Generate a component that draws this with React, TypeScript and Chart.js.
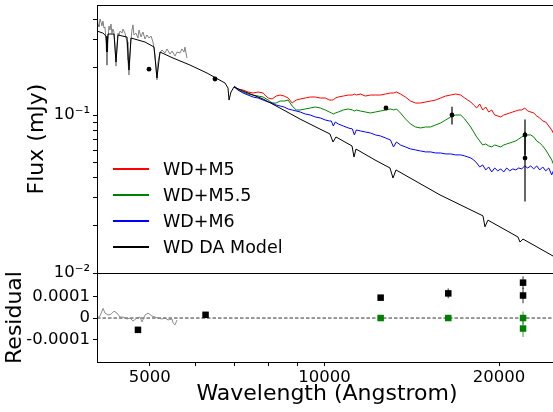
import React, { useEffect, useRef } from "react";
import { Chart, registerables } from "chart.js";
Chart.register(...registerables);

// ---------- top panel data ----------
const modelWave = [3861, 3956, 4005, 4021, 4037, 4137, 4171, 4205, 4362, 4397, 4433, 4693, 4868, 4927, 4988, 5259, 5635, 6038, 6497, 6577, 6604, 6657, 6739, 6990, 7583, 8124, 8814, 9559, 9956, 10078, 10201, 10888, 10977, 11066, 11956, 12707, 12863, 13021, 15572, 18543, 18695, 18925, 21380, 21556, 21819, 25056];
const modelFlux = [0.340, 0.330, 0.316, 0.2505, 0.3256, 0.3256, 0.2164, 0.3208, 0.3116, 0.1927, 0.3072, 0.2897, 0.2694, 0.1714, 0.2505, 0.2295, 0.2072, 0.1844, 0.1594, 0.1482, 0.1244, 0.1398, 0.1504, 0.1418, 0.1263, 0.1107, 0.0943, 0.0815, 0.0758, 0.0675, 0.0726, 0.0637, 0.0542, 0.0609, 0.0519, 0.0462, 0.0399, 0.0449, 0.0312, 0.0230, 0.0196, 0.0216, 0.0169, 0.0157, 0.0164, 0.0124];

const specWave = [3861, 3877, 3892, 3908, 3924, 3940, 3956, 3972, 3988, 4005, 4021, 4037, 4054, 4070, 4087, 4103, 4120, 4137, 4154, 4171, 4188, 4205, 4222, 4239, 4274, 4291, 4326, 4362, 4379, 4397, 4415, 4433, 4451, 4469, 4487, 4524, 4561, 4580, 4617, 4655, 4693, 4731, 4770, 4809, 4848, 4888, 4927, 4947, 4988, 5029, 5090, 5132, 5195, 5237, 5301, 5345, 5410, 5454, 5499, 5521, 5544, 5566];
const specFlux = [0.411, 0.377, 0.361, 0.405, 0.388, 0.366, 0.393, 0.355, 0.361, 0.298, 0.207, 0.298, 0.366, 0.345, 0.377, 0.330, 0.350, 0.335, 0.277, 0.204, 0.277, 0.330, 0.321, 0.340, 0.330, 0.350, 0.330, 0.290, 0.223, 0.179, 0.240, 0.298, 0.345, 0.372, 0.321, 0.330, 0.307, 0.345, 0.312, 0.335, 0.303, 0.321, 0.307, 0.316, 0.290, 0.240, 0.167, 0.216, 0.247, 0.258, 0.247, 0.262, 0.243, 0.254, 0.236, 0.2505, 0.247, 0.262, 0.2505, 0.269, 0.247, 0.2295];

const compWave = [6739, 6850, 6991, 7135, 7282, 7432, 7585, 7742, 7869, 7998, 8130, 8263, 8399, 8537, 8678, 8821, 9003, 9188, 9378, 9571, 9768, 9929, 10010, 10092, 10174, 10299, 10511, 10728, 10904, 10993, 11083, 11265, 11497, 11734, 11976, 12223, 12475, 12732, 12888, 13046, 13261, 13534, 13813, 14098, 14388, 14685, 14987, 15296, 15611, 15933, 16261, 16596, 16938, 17217, 17428, 17642, 17858, 18077, 18299, 18524, 18751, 18981, 19214, 19450, 19689, 19931, 20176, 20424, 20675, 20929, 21186, 21446, 21709, 21975, 22245, 22518, 22794, 23074, 23357, 23644, 23934, 24228, 24525, 24725];
const fluxM5 = [0.1526, 0.1461, 0.1439, 0.1398, 0.1378, 0.1398, 0.1378, 0.1281, 0.1263, 0.1319, 0.1338, 0.1319, 0.1281, 0.1191, 0.1244, 0.1263, 0.1281, 0.1300, 0.1300, 0.1281, 0.1281, 0.1244, 0.1244, 0.1244, 0.1281, 0.1300, 0.1319, 0.1338, 0.1338, 0.1358, 0.1338, 0.1358, 0.1319, 0.1338, 0.1338, 0.1338, 0.1358, 0.1378, 0.1378, 0.1398, 0.1358, 0.1300, 0.1226, 0.1191, 0.1191, 0.1209, 0.1226, 0.1244, 0.1281, 0.1319, 0.1338, 0.1358, 0.1338, 0.1281, 0.1244, 0.1209, 0.1157, 0.1108, 0.1174, 0.1076, 0.1124, 0.1045, 0.1076, 0.1000, 0.0986, 0.0972, 0.1000, 0.1015, 0.1030, 0.1045, 0.1060, 0.1076, 0.1076, 0.1108, 0.1060, 0.1045, 0.1030, 0.0986, 0.0958, 0.0917, 0.0903, 0.0852, 0.0804, 0.0759];
const fluxM55 = [0.1504, 0.1439, 0.1398, 0.1358, 0.1338, 0.1319, 0.1300, 0.1244, 0.1191, 0.1191, 0.1226, 0.1226, 0.1244, 0.1140, 0.1076, 0.1076, 0.1092, 0.1108, 0.1124, 0.1108, 0.1076, 0.1045, 0.1030, 0.1015, 0.1030, 0.1045, 0.1076, 0.1092, 0.1076, 0.1060, 0.1076, 0.1060, 0.1045, 0.1030, 0.1045, 0.1060, 0.1076, 0.1092, 0.1076, 0.1092, 0.1030, 0.0944, 0.0877, 0.0840, 0.0828, 0.0840, 0.0840, 0.0865, 0.0890, 0.0930, 0.0972, 0.1000, 0.1000, 0.0944, 0.0890, 0.0840, 0.0781, 0.0726, 0.0685, 0.0646, 0.0656, 0.0637, 0.0628, 0.0646, 0.0637, 0.0628, 0.0646, 0.0656, 0.0665, 0.0675, 0.0685, 0.0705, 0.0726, 0.0748, 0.0748, 0.0748, 0.0726, 0.0685, 0.0665, 0.0637, 0.0601, 0.0559, 0.0520, 0.0483];
const fluxM6 = [0.1526, 0.1439, 0.1378, 0.1338, 0.1300, 0.1281, 0.1244, 0.1209, 0.1191, 0.1157, 0.1140, 0.1124, 0.1092, 0.1076, 0.1060, 0.1045, 0.1015, 0.1000, 0.0972, 0.0958, 0.0930, 0.0917, 0.0917, 0.0852, 0.0903, 0.0877, 0.0852, 0.0828, 0.0816, 0.0748, 0.0804, 0.0793, 0.0781, 0.0770, 0.0748, 0.0737, 0.0716, 0.0695, 0.0628, 0.0675, 0.0646, 0.0628, 0.0610, 0.0601, 0.0592, 0.0584, 0.0584, 0.0575, 0.0575, 0.0567, 0.0567, 0.0559, 0.0559, 0.0551, 0.0543, 0.0535, 0.0520, 0.0497, 0.0469, 0.0483, 0.0449, 0.0469, 0.0436, 0.0462, 0.0443, 0.0456, 0.0436, 0.0462, 0.0443, 0.0456, 0.0449, 0.0462, 0.0456, 0.0476, 0.0462, 0.0476, 0.0456, 0.0476, 0.0449, 0.0469, 0.0443, 0.0462, 0.0418, 0.0449];

const photWave = [4770, 6238, 12500, 16350, 22000, 22000];
const photFlux = [0.195, 0.169, 0.1108, 0.100, 0.0748, 0.0534];
const photErr = [0, 0, 0, 0.013, 0.019, 0.025];

// ---------- residual panel data ----------
const residSpecWave = [4054, 4103, 4152, 4185, 4235, 4286, 4337, 4389, 4442, 4495, 4567, 4622, 4677, 4752, 4808, 4847, 4905, 4964, 5044, 5104, 5165, 5248, 5311, 5375, 5461, 5483, 5526, 5570];
const residSpecVal = [0, 0.9e-5, 4.5e-5, 2.3e-5, 1.4e-5, 1.8e-5, 3.2e-5, 2.3e-5, 0.45e-5, 0.45e-5, -0.45e-5, 0, -1.4e-5, 0, 0.45e-5, -1.8e-5, 1.4e-5, 2.3e-5, 0.9e-5, 0.45e-5, 0, -0.45e-5, 0, -0.9e-5, -0.45e-5, -2.3e-5, -3.2e-5, -0.9e-5];
const residBlackWave = [4770, 6238, 12500, 16350, 22000, 22000];
const residBlackVal = [-5.5e-5, 1.5e-5, 9.5e-5, 11.5e-5, 16.5e-5, 10.5e-5];
const residBlackErr = [0, 0, 0, 2.3e-5, 3e-5, 3.6e-5];
const residGreenWave = [12500, 16350, 22000, 22000];
const residGreenVal = [0, 0, 0, -4.9e-5];
const residGreenErr = [0, 0, 3e-5, 4e-5];

// ---------- ticks ----------
const topYTicks = [0.01, 0.02, 0.03, 0.04, 0.05, 0.06, 0.07, 0.08, 0.09, 0.1, 0.2, 0.3, 0.4];
const topYLabels: Record<string, string> = { "0.01": "10\u207B\u00B2", "0.1": "10\u207B\u00B9" };
const resYTicks = [-0.0001, 0, 0.0001];
const resYLabels = ["-0.0001", "0", "0.0001"];
const xTicks = [5000, 6000, 7000, 8000, 9000, 10000, 20000];
const xLabels: Record<string, string> = { "5000": "5000", "10000": "10000", "20000": "20000" };

const legendItems = [
  { label: "WD+M5", color: "#ff0000" },
  { label: "WD+M5.5", color: "#008000" },
  { label: "WD+M6", color: "#0000ff" },
  { label: "WD DA Model", color: "#000000" },
];

const FONT = "'DejaVu Sans', sans-serif";
const CW = 572;

const pts = (xs: number[], ys: number[]) => xs.map((x, i) => ({ x, y: ys[i] }));

const framePlugin = {
  id: "frame",
  afterDraw(chart: any) {
    const { ctx, chartArea: a } = chart;
    ctx.save();
    ctx.strokeStyle = "#000";
    ctx.lineWidth = 1;
    ctx.strokeRect(Math.round(a.left) + 0.5, Math.round(a.top) + 0.5, Math.round(a.right - a.left), Math.round(a.bottom - a.top));
    ctx.restore();
  },
};

const errorBarPlugin = {
  id: "errbars",
  beforeDatasetDraw(chart: any, args: any) {
    const ds: any = chart.data.datasets[args.index];
    if (!ds.errors) return;
    const meta = chart.getDatasetMeta(args.index);
    const xs = chart.scales[meta.xAxisID];
    const ys = chart.scales[meta.yAxisID];
    const { ctx, chartArea: a } = chart;
    ctx.save();
    ctx.beginPath();
    ctx.rect(a.left, a.top, a.right - a.left, a.bottom - a.top);
    ctx.clip();
    ctx.strokeStyle = ds.errorColor;
    ctx.lineWidth = 1.5;
    ds.data.forEach((p: any, i: number) => {
      const e = ds.errors[i];
      if (!e) return;
      const x = xs.getPixelForValue(p.x);
      ctx.beginPath();
      ctx.moveTo(x, ys.getPixelForValue(p.y - e));
      ctx.lineTo(x, ys.getPixelForValue(p.y + e));
      ctx.stroke();
    });
    ctx.restore();
  },
};

const zeroLinePlugin = {
  id: "zeroline",
  beforeDatasetsDraw(chart: any) {
    const { ctx, chartArea: a } = chart;
    const y = chart.scales.y.getPixelForValue(0);
    ctx.save();
    ctx.strokeStyle = "#333";
    ctx.lineWidth = 1;
    ctx.setLineDash([3.5, 2]);
    ctx.beginPath();
    ctx.moveTo(a.left, y);
    ctx.lineTo(a.right, y);
    ctx.stroke();
    ctx.restore();
  },
};

const axisCommon = {
  grid: { drawOnChartArea: false, drawTicks: true, tickLength: 4, color: "#000", tickColor: "#000" },
  border: { display: true, color: "#000", width: 1 },
};

const noPad = (s: any) => {
  s.paddingTop = 0;
  s.paddingBottom = 0;
  s.paddingLeft = 0;
  s.paddingRight = 0;
};

export default function App() {
  const topRef = useRef<HTMLCanvasElement>(null);
  const botRef = useRef<HTMLCanvasElement>(null);

  useEffect(() => {
    const line = (label: string, xs: number[], ys: number[], color: string, order: number, width = 1) => ({
      label,
      data: pts(xs, ys),
      borderColor: color,
      backgroundColor: color,
      borderWidth: width,
      pointRadius: 0,
      showLine: true,
      tension: 0,
      order,
    });

    const top = new Chart(topRef.current as HTMLCanvasElement, {
      type: "scatter",
      data: {
        datasets: [
          {
            label: "phot",
            data: pts(photWave, photFlux),
            pointRadius: 2.4,
            pointBackgroundColor: "#000",
            pointBorderWidth: 0,
            showLine: false,
            order: 0,
            errors: photErr,
            errorColor: "rgba(0,0,0,0.8)",
          } as any,
          line("WD DA Model", modelWave, modelFlux, "#000000", 1),
          line("WD+M6", compWave, fluxM6, "#0000ff", 2),
          line("WD+M5.5", compWave, fluxM55, "#008000", 3),
          line("WD+M5", compWave, fluxM5, "#ff0000", 4),
          line("spectrum", specWave, specFlux, "#808080", 5),
        ],
      },
      options: {
        animation: false,
        responsive: false,
        maintainAspectRatio: false,
        events: [],
        layout: { padding: { left: 0, right: CW - 557, top: 5, bottom: 290 - 273 } },
        plugins: { legend: { display: false }, tooltip: { enabled: false } },
        scales: {
          x: { type: "logarithmic", min: 3861, max: 25056, display: false },
          y: {
            type: "logarithmic",
            min: 0.01,
            max: 0.497,
            bounds: "data",
            afterBuildTicks: (s: any) => {
              s.ticks = topYTicks.map((v) => ({ value: v }));
            },
            afterFit: (s: any) => {
              s.width = 97;
              noPad(s);
            },
            ticks: {
              autoSkip: false,
              padding: 3,
              color: "#000",
              font: { family: FONT, size: 16.5 },
              callback: (v: any) => topYLabels[String(+Number(v).toPrecision(6))] || "",
            },
            title: {
              display: true,
              text: "Flux (mJy)",
              color: "#000",
              font: { family: FONT, size: 22 },
              padding: { top: 24, bottom: 0 },
            },
            ...axisCommon,
          },
        },
      } as any,
      plugins: [framePlugin, errorBarPlugin],
    });

    const bot = new Chart(botRef.current as HTMLCanvasElement, {
      type: "scatter",
      data: {
        datasets: [
          {
            label: "resid black",
            data: pts(residBlackWave, residBlackVal),
            pointStyle: "rect",
            pointRadius: 4.6,
            pointBackgroundColor: "#000",
            pointBorderWidth: 0,
            showLine: false,
            order: 0,
            errors: residBlackErr,
            errorColor: "rgba(0,0,0,0.55)",
          } as any,
          {
            label: "resid green",
            data: pts(residGreenWave, residGreenVal),
            pointStyle: "rect",
            pointRadius: 4.6,
            pointBackgroundColor: "#008000",
            pointBorderWidth: 0,
            showLine: false,
            order: 1,
            errors: residGreenErr,
            errorColor: "rgba(0,128,0,0.5)",
          } as any,
          line("resid spectrum", residSpecWave, residSpecVal, "#808080", 2, 0.9),
        ],
      },
      options: {
        animation: false,
        responsive: false,
        maintainAspectRatio: false,
        events: [],
        layout: { padding: { left: 0, right: CW - 557, top: 273, bottom: 0 } },
        plugins: { legend: { display: false }, tooltip: { enabled: false } },
        scales: {
          x: {
            type: "logarithmic",
            min: 4054,
            max: 25175,
            bounds: "data",
            afterBuildTicks: (s: any) => {
              s.ticks = xTicks.map((v) => ({ value: v }));
            },
            afterFit: (s: any) => {
              s.height = 50;
              noPad(s);
            },
            ticks: {
              autoSkip: false,
              maxRotation: 0,
              padding: 2,
              color: "#000",
              font: { family: FONT, size: 16.5 },
              callback: (v: any) => xLabels[String(Math.round(Number(v)))] || "",
            },
            title: {
              display: true,
              text: "Wavelength (Angstrom)",
              color: "#000",
              font: { family: FONT, size: 22 },
              padding: { top: 0, bottom: 5 },
            },
            ...axisCommon,
          },
          y: {
            type: "linear",
            min: -0.000205,
            max: 0.00021,
            afterBuildTicks: (s: any) => {
              s.ticks = resYTicks.map((v) => ({ value: v }));
            },
            afterFit: (s: any) => {
              s.width = 97;
              noPad(s);
            },
            ticks: {
              autoSkip: false,
              padding: 3,
              color: "#000",
              font: { family: FONT, size: 16.5 },
              callback: (v: any, i: number) => resYLabels[i] ?? "",
            },
            title: {
              display: true,
              text: "Residual",
              color: "#000",
              font: { family: FONT, size: 22 },
              padding: { top: 2, bottom: 0 },
            },
            ...axisCommon,
          },
        },
      } as any,
      plugins: [framePlugin, errorBarPlugin, zeroLinePlugin],
    });

    return () => {
      top.destroy();
      bot.destroy();
    };
  }, []);

  return (
    <div
      style={{
        position: "fixed",
        left: 0,
        top: 0,
        width: 553,
        height: 412,
        overflow: "hidden",
        background: "#fff",
      }}
    >
      <canvas ref={topRef} width={CW} height={290} style={{ position: "absolute", left: 0, top: 0 }} />
      <canvas ref={botRef} width={CW} height={412} style={{ position: "absolute", left: 0, top: 0 }} />
      <div style={{ position: "absolute", left: 0, top: 0, fontFamily: FONT, fontSize: 17.5, color: "#000" }}>
        {legendItems.map((it, i) => (
          <div key={it.label} style={{ position: "absolute", left: 113, top: 169 + i * 26 - 12, height: 24, display: "flex", alignItems: "center", whiteSpace: "nowrap" }}>
            <div style={{ width: 36, height: 1.2, background: it.color, flex: "none" }} />
            <span style={{ marginLeft: 14, lineHeight: "24px" }}>{it.label}</span>
          </div>
        ))}
      </div>
    </div>
  );
}
